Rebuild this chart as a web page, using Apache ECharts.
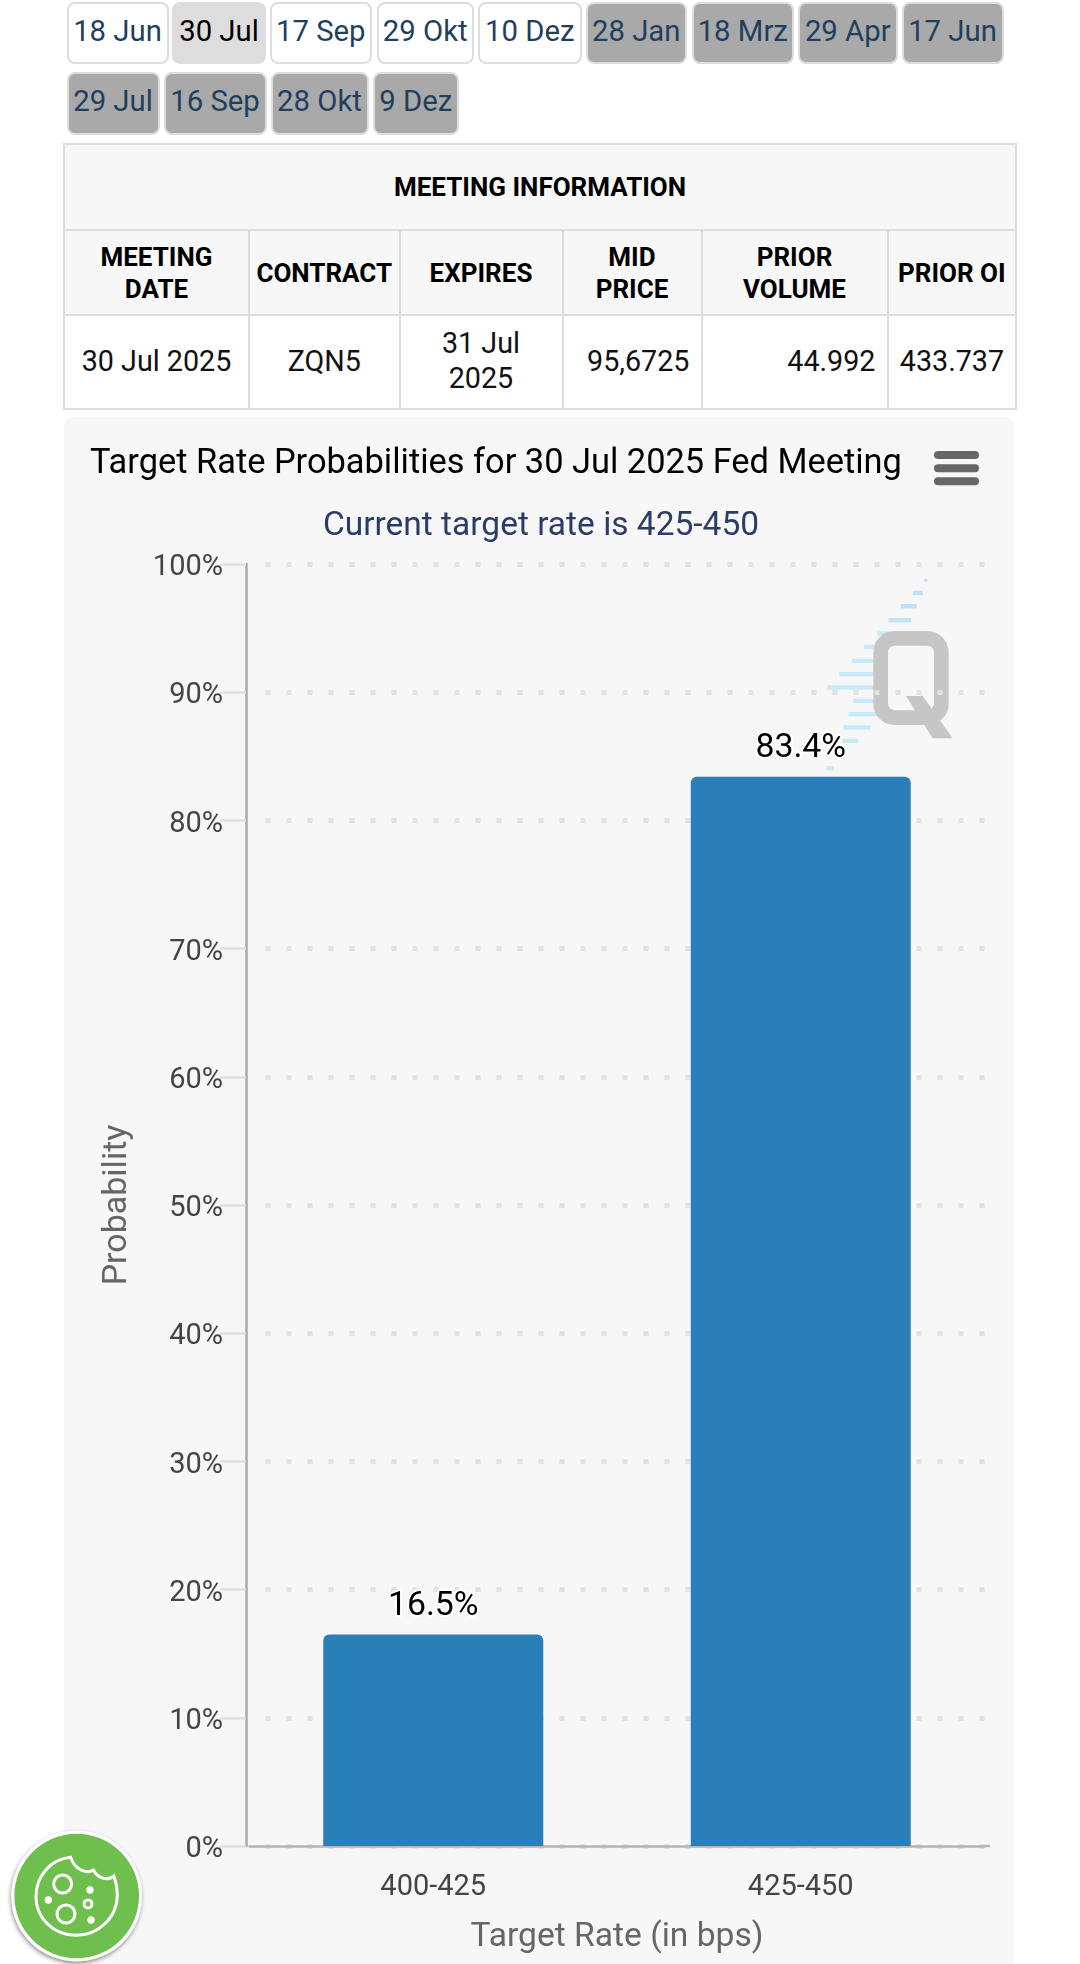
<!DOCTYPE html>
<html>
<head>
<meta charset="utf-8">
<script src="https://cdn.jsdelivr.net/npm/echarts@6/dist/echarts.min.js"></script>
<style>
html,body{margin:0;padding:0;background:#fff;width:1080px;height:1964px;overflow:hidden;font-family:Roboto,sans-serif}
.btn{position:absolute;box-sizing:border-box;border:2.5px solid #ddd;border-radius:8px;display:flex;align-items:center;justify-content:center;font-size:29.3px;color:#1f3f5f;background:#fff;white-space:nowrap;padding-bottom:4px}
.btn.sel{background:#ddd;color:#000}
.btn.off{background:#a9a9a9}
#panel{position:absolute;left:63.5px;top:417px;width:950px;height:1560px;background:#f7f7f7;border-radius:9px}
table{position:absolute;left:63px;top:143px;width:952px;height:267px;border-collapse:collapse;table-layout:fixed;background:#fff;font-size:28.7px;color:#111}
td,th{border:2.5px solid #ddd;padding:0 11px 2px;line-height:35px;box-sizing:border-box}
th{background:#f7f7f7;font-size:26px;font-weight:700;color:#000;padding:0 2px;text-align:center;line-height:32px;white-space:pre-line}
td.c{text-align:center}td.r{text-align:right}
#wm,#top{position:absolute;left:0;top:0}
#chart{position:absolute;left:0;top:0;width:1080px;height:1964px}
</style>
</head>
<body>
<div id="panel"></div>
<svg id="wm" width="1080" height="1964" viewBox="0 0 1080 1964">
<g transform="translate(800,570) scale(0.3333)">
<g fill="#c6eaf8">
<rect x="372" y="26" width="10" height="10" fill="#c6dff8"/>
<rect x="338" y="62" width="30" height="13" fill="#bfe0fa"/>
<rect x="302" y="102" width="48" height="13" fill="#bfe0fa"/>
<rect x="265" y="144" width="68" height="13" fill="#bfe4fa"/>
<rect x="232" y="184" width="60" height="13"/>
<rect x="192" y="224" width="50" height="13"/>
<rect x="155" y="266" width="70" height="13"/>
<rect x="118" y="306" width="107" height="13"/>
<rect x="82" y="346" width="143" height="13"/>
<rect x="160" y="386" width="65" height="13"/>
<rect x="145" y="426" width="85" height="13"/>
<rect x="130" y="466" width="82" height="13"/>
<rect x="128" y="506" width="47" height="13"/>
<rect x="80" y="588" width="22" height="13"/>
</g>
<rect x="242" y="205" width="182" height="238" rx="42" fill="none" stroke="#c6c6c6" stroke-width="44"/>
<polygon points="318,378 368,378 458,505 398,505" fill="#c6c6c6"/>
</g>
</svg>
<div id="btns"></div>
<table id="tbl"></table>
<div id="chart"></div>
<svg id="top" width="1080" height="1964" viewBox="0 0 1080 1964" style="pointer-events:none">
<g fill="#666">
<rect x="934" y="451" width="45" height="8" rx="4"/>
<rect x="934" y="464.3" width="45" height="8" rx="4"/>
<rect x="934" y="477.3" width="45" height="8" rx="4"/>
</g>
<defs><filter id="sh" x="-30%" y="-30%" width="160%" height="160%"><feDropShadow dx="-2" dy="6" stdDeviation="6" flood-color="#000" flood-opacity="0.45"/></filter></defs>
<g transform="translate(0,1620) scale(0.3333)">
<circle cx="230" cy="828" r="196" fill="#fff" filter="url(#sh)"/>
<circle cx="230" cy="828" r="187" fill="#6fbf4f"/>
<g fill="none" stroke="#fff" stroke-width="9">
<path d="M212 712 C150 718 108 770 108 830 C108 895 162 946 228 946 C298 946 352 890 352 825 C352 805 348 785 342 768 C325 782 295 778 280 750 C262 762 225 752 212 712 Z"/>
<circle cx="188" cy="792" r="27"/>
<circle cx="198" cy="882" r="27"/>
<circle cx="264" cy="852" r="12"/>
</g>
<g fill="#fff">
<circle cx="270" cy="810" r="11"/>
<circle cx="145" cy="840" r="11"/>
<circle cx="273" cy="900" r="11"/>
</g>
</g>
</svg>
<script>
// tab labels
const meetingsRow1 = ['18 Jun','30 Jul','17 Sep','29 Okt','10 Dez','28 Jan','18 Mrz','29 Apr','17 Jun'];
const meetingsRow2 = ['29 Jul','16 Sep','28 Okt','9 Dez'];
const row1States = ['','sel','','','','off','off','off','off'];
const row1Edges = [[66.5,168.5],[172,266],[269.5,372],[376.5,474],[478,581.5],[585.5,687],[691.5,794],[798,897.5],[901.5,1003.5]];
const row2Edges = [[66.5,159.5],[163.5,266.5],[270.5,368.5],[372.5,459]];
// table
const tableTitle = 'MEETING INFORMATION';
const tableHeads = ['MEETING\nDATE','CONTRACT','EXPIRES','MID\nPRICE','PRIOR\nVOLUME','PRIOR OI'];
const tableRow = ['30 Jul 2025','ZQN5','31 Jul 2025','95,6725','44.992','433.737'];
const colWidths = [185,150.5,163,139,186,128.5];
// chart
const categories = ['400-425','425-450'];
const probabilities = [16.5,83.4];
const titleText = 'Target Rate Probabilities for 30 Jul 2025 Fed Meeting';
const subtitleText = 'Current target rate is 425-450';

const btns = document.getElementById('btns');
function addBtn(label,edge,top,h,cls){
  const b=document.createElement('div');
  b.className='btn '+cls;b.textContent=label;
  b.style.cssText=`left:${edge[0]}px;width:${edge[1]-edge[0]}px;top:${top}px;height:${h}px`;
  btns.appendChild(b);
}
meetingsRow1.forEach((m,i)=>addBtn(m,row1Edges[i],2,61.5,row1States[i]));
meetingsRow2.forEach((m,i)=>addBtn(m,row2Edges[i],72,62.5,'off'));

const t=document.getElementById('tbl');
t.innerHTML='<colgroup>'+colWidths.map(w=>`<col style="width:${w}px">`).join('')+'</colgroup>'+
 `<tr style="height:86px"><th colspan="6">${tableTitle}</th></tr>`+
 '<tr style="height:85px">'+tableHeads.map(h=>`<th>${h}</th>`).join('')+'</tr>'+
 '<tr style="height:94px">'+tableRow.map((v,i)=>`<td class="${i<3?'c':'r'}">${v}</td>`).join('')+'</tr>';

const chart=echarts.init(document.getElementById('chart'),null,{renderer:'canvas'});
chart.setOption({
  animation:false,
  backgroundColor:'transparent',
  textStyle:{fontFamily:'Roboto'},
  title:[
    {text:titleText,left:85,top:442,textStyle:{fontFamily:'Roboto',fontSize:34.4,fontWeight:400,color:'#000'}},
    {text:subtitleText,left:536,textAlign:'center',top:505,textStyle:{fontFamily:'Roboto',fontSize:33.5,fontWeight:400,color:'#2b3c66'}}
  ],
  grid:{left:249.5,top:564,width:735,height:1282,containLabel:false},
  xAxis:{
    type:'category',data:categories,
    axisLine:{lineStyle:{color:'#b4b4b4',width:2.5}},
    axisTick:{alignWithLabel:true,length:25,lineStyle:{color:'#e0e0e0',width:2.5}},
    axisLabel:{color:'#444',fontSize:29,fontFamily:'Roboto',margin:27},
    name:'Target Rate (in bps)',nameLocation:'middle',nameGap:75,
    nameTextStyle:{color:'#666',fontSize:33.6,fontFamily:'Roboto'}
  },
  yAxis:{
    type:'value',min:0,max:100,interval:10,offset:3.5,
    axisLine:{show:true,lineStyle:{color:'#aaa',width:2.5}},
    axisTick:{show:true,length:26,lineStyle:{color:'#e0e0e0',width:2.5}},
    axisLabel:{color:'#444',fontSize:29,fontFamily:'Roboto',margin:23,formatter:'{value}%',verticalAlign:'top',lineHeight:8},
    splitLine:{show:true,lineStyle:{color:'#e2e2e2',width:5,type:[5,16],dashOffset:5}},
    name:'Probability',nameLocation:'middle',nameGap:112,
    nameTextStyle:{color:'#666',fontSize:34,fontFamily:'Roboto'}
  },
  series:[{
    type:'bar',data:probabilities,barWidth:220,
    itemStyle:{color:'#2a7fb8',borderRadius:[6,6,0,0]},
    label:{show:true,position:'top',distance:11,color:'#000',fontSize:33.8,fontFamily:'Roboto',
      textBorderColor:'#fff',textBorderWidth:4,formatter:p=>p.value.toFixed(1)+'%'}
  }],
  graphic:[{type:'rect',shape:{x:984,y:1844.75,width:6,height:2.5},style:{fill:'#b4b4b4'},silent:true}]
});
</script>
</body>
</html>
